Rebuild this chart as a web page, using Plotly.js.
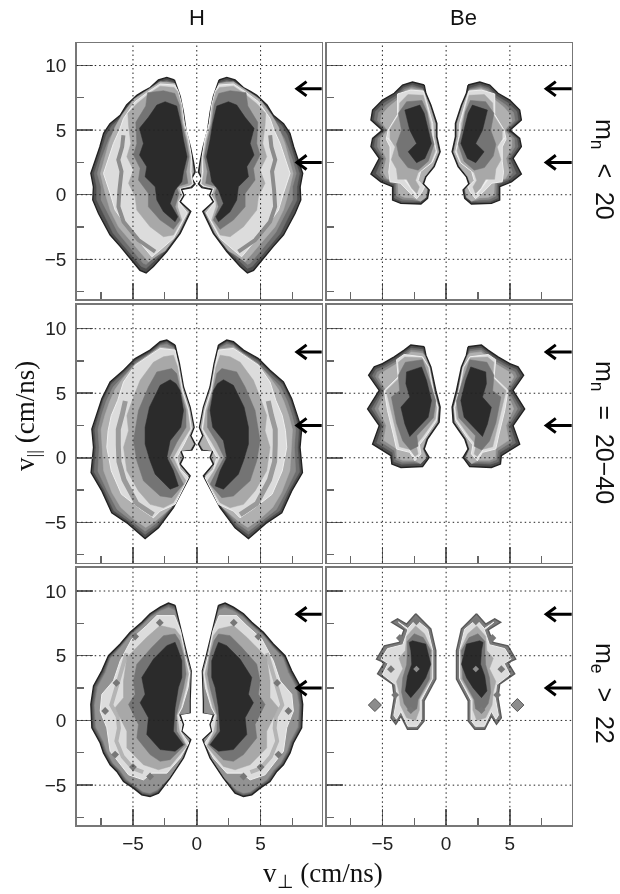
<!DOCTYPE html>
<html>
<head>
<meta charset="utf-8">
<script src="https://cdn.plot.ly/plotly-3.0.1.min.js"></script>
<style>html,body{margin:0;padding:0;background:#fff}#chart{width:620px;height:894px;filter:blur(0.35px)}</style>
</head>
<body>
<div id="chart"></div>
<script>
// Right-hand lobes, [v_perp, v_par] in cm/ns. Left lobes mirror them.
const levelFills = ['#4d4d4d','#6e6e6e','#8c8c8c','#b0b0b0','#dcdcdc','#a8a8a8','#747474','#2b2b2b'];
const gridX = [-5,0,5];
const gridY = [-5,0,5,10];
const arrowV = [8.2,2.5];
const columnNames = ['H','Be'];

const h1Edge=[[1.75,8.88],[2.35,9.08],[3.0,8.88],[3.65,8.3],[4.2,8.0],[4.7,7.7],[5.5,6.95],[6.0,6.15],[6.8,5.5],[7.3,4.75],[7.6,3.7],[7.9,2.8],[8.3,1.65],[8.1,0.6],[8.15,-0.4],[7.7,-1.45],[7.3,-2.2],[6.8,-3.1],[6.0,-4.0],[5.1,-5.05],[4.45,-5.85],[3.97,-6.05],[3.4,-5.55],[2.35,-4.4],[1.3,-3.0],[0.47,-1.3],[1.3,-0.55],[1.0,-0.05],[1.2,0.4],[0.4,0.55],[0.13,0.83],[0.4,1.26],[0.13,1.75],[0.26,2.55],[0.5,3.7],[0.85,5],[1.05,6.4],[1.3,7.6]];
const h1Inner=[[2.5,-4.35],[1.45,-3.0],[0.62,-1.3],[1.42,-0.55],[1.12,-0.05],[1.32,0.5],[0.5,0.65],[0.27,0.85],[0.5,1.26],[0.27,1.75],[0.36,2.55],[0.58,3.7],[0.93,5],[1.12,6.4],[1.38,7.6]];
const h1B=[[1.85,8.7],[2.35,8.85],[2.95,8.7],[3.6,8.1],[4.6,7.5],[5.4,6.8],[5.9,6.0],[6.65,5.35],[7.1,4.6],[7.4,3.6],[7.7,2.7],[8.05,1.65],[7.85,0.6],[7.85,-0.4],[7.4,-1.35],[7.0,-2.1],[6.55,-3.0],[5.8,-3.85],[4.9,-4.9],[4.35,-5.55],[3.97,-5.7],[3.5,-5.25]];
const h1C=[[1.85,8.55],[2.35,8.75],[2.9,8.6],[3.6,7.95],[4.6,7.3],[5.3,6.6],[5.8,5.8],[6.3,5.1],[6.85,4.4],[7.2,3.5],[7.5,2.7],[7.8,1.65],[7.5,0.6],[7.5,-0.4],[7.05,-1.3],[6.65,-2.0],[6.2,-2.9],[5.55,-3.7],[4.65,-4.75],[4.2,-5.3],[3.97,-5.4],[3.55,-5.0]];
const h1D=[[1.72,8.62],[2.87,8.75],[3.79,8.15],[4.96,7.38],[5.87,6.17],[6.4,5.26],[6.9,3.97],[7.25,2.81],[7.55,1.65],[7.18,0.1],[6.79,-1.19],[6.14,-2.48],[5.35,-3.38],[4.18,-4.8],[3.79,-5.19],[2.87,-4.54]];
const h1E=[[1.72,8.49],[2.87,8.57],[3.79,7.97],[4.83,7.2],[5.74,5.91],[6.06,5.0],[6.53,3.97],[6.92,2.81],[7.31,1.65],[6.79,0.1],[6.4,-1.19],[5.48,-2.48],[4.7,-3.38],[3.52,-4.8],[2.87,-4.28],[1.83,-3.38],[0.75,-1.4],[1.42,-0.55],[1.12,-0.05],[1.32,0.5],[0.5,0.68],[0.3,0.85],[0.45,1.78],[0.42,2.94],[0.63,4.23],[0.97,5.52],[1.17,6.94],[1.45,8.0]];
const h1F=[[1.78,8.3],[2.87,8.4],[3.7,7.85],[4.7,7.05],[5.4,6.3],[5.35,5.39],[5.17,3.97],[5.48,2.94],[4.96,1.91],[5.35,0.88],[4.83,-0.15],[4.7,-1.19],[3.66,-2.48],[2.61,-3.25],[1.83,-3.12],[1.17,-1.96],[1.51,-0.93],[1.5,-0.55],[1.2,-0.05],[1.4,0.5],[0.6,0.72],[0.4,0.85],[0.55,1.78],[0.5,2.94],[0.73,4.23],[1.07,5.52],[1.22,6.94],[1.5,7.97]];
const h1G=[[1.72,7.84],[2.61,8.05],[3.86,7.9],[4.0,6.87],[4.78,5.6],[4.7,3.97],[4.96,3.07],[4.44,2.04],[4.57,1.14],[3.79,0.1],[3.79,-0.93],[2.87,-1.96],[1.83,-2.68],[1.3,-1.96],[1.7,-0.93],[1.4,0.1],[1.6,0.6],[0.7,0.88],[0.84,1.78],[0.6,2.94],[0.84,4.23],[1.17,5.52],[1.36,6.94]];
const h1Core=[[1.57,6.86],[2.48,7.2],[3.13,6.94],[3.79,5.99],[4.49,5.14],[4.18,3.97],[4.49,3.07],[3.92,2.17],[4.05,1.39],[3.26,0.62],[3.13,-0.41],[2.61,-1.32],[1.7,-2.09],[1.49,-1.7],[2.09,-0.67],[1.7,0.36],[1.17,1.0],[1.04,1.78],[0.76,2.94],[1.04,4.23],[1.25,5.52]];
const h1Stripe=[[3.26,-4.41],[4.57,-3.51],[5.74,-2.09],[6.14,-0.93],[6.06,0.36],[6.0,1.0],[5.9,1.8],[6.15,2.7],[5.85,3.7],[5.75,4.6]];

const b1Edge=[[1.72,8.49],[2.64,8.72],[3.42,8.49],[4.07,7.85],[4.99,7.33],[5.77,6.55],[5.9,5.78],[5.0,5.0],[5.77,4.36],[5.9,3.72],[5.25,2.81],[5.9,1.6],[5.12,1.0],[4.2,0.62],[4.2,-0.41],[3.55,-0.67],[1.98,-0.72],[1.46,-0.28],[1.33,0.36],[1.78,0.83],[1.59,1.39],[0.94,2.17],[0.47,3.33],[0.73,4.49],[0.73,5.52],[1.2,6.94],[1.59,7.85]];
const b1Inner=[[2.0,-0.5],[1.6,-0.2],[1.5,0.4],[1.9,0.85],[1.7,1.4],[1.05,2.2],[0.6,3.3],[0.85,4.5],[0.85,5.5],[1.3,6.9],[1.7,7.8]];
const b1B=[[1.85,8.25],[2.65,8.5],[3.35,8.28],[3.95,7.65],[4.85,7.12],[5.55,6.45],[5.65,5.8],[4.8,5.0],[5.55,4.35],[5.65,3.72],[5.0,2.8],[5.5,1.65],[5.0,1.2],[4.05,0.8],[4.05,-0.25],[3.5,-0.5],[2.6,-0.55]];
const b1C=[[1.85,8.15],[2.7,8.35],[3.3,8.15],[3.85,7.5],[4.7,6.95],[5.3,6.35],[5.4,5.75],[4.7,5.0],[5.35,4.35],[5.4,3.72],[4.85,2.8],[5.2,1.7],[4.85,1.25],[3.95,0.95],[3.9,-0.1],[3.4,-0.35],[2.6,-0.4]];
const b1D=[[1.8,8.08],[2.75,8.22],[3.2,8.05],[3.75,7.4],[4.5,6.8],[5.05,6.2],[5.15,5.7],[4.6,5.0],[5.15,4.35],[5.15,3.72],[4.7,2.8],[4.95,1.75],[4.65,1.25],[3.8,1.05],[3.75,0.0],[3.3,-0.2],[2.6,-0.25]];
const b1E=[[1.78,8.02],[2.77,8.1],[3.81,7.8],[3.81,6.2],[4.55,5.0],[4.7,4.3],[4.4,3.7],[4.4,2.6],[4.5,1.75],[4.4,1.0],[3.6,0.9],[2.9,0.2],[2.3,-0.3],[1.9,0.2],[1.7,0.6],[2.2,1.1],[2.0,1.8],[1.1,2.5],[0.75,3.3],[1.0,4.5],[1.05,5.5],[1.4,6.8]];
const b1F=[[1.8,7.7],[3.0,7.75],[3.65,7.1],[3.7,6.2],[4.4,5.1],[4.4,4.3],[4.0,3.7],[4.3,2.7],[3.9,2.0],[3.8,1.2],[3.1,1.2],[2.7,0.5],[2.3,0.1],[2.1,0.6],[2.4,1.1],[2.2,1.7],[1.2,2.5],[0.85,3.4],[1.15,4.5],[1.2,5.5],[1.55,6.8]];
const b1G=[[1.9,7.3],[3.1,7.2],[3.75,6.3],[3.5,5.0],[3.9,3.9],[3.7,3.0],[3.0,2.1],[2.2,1.9],[1.4,2.6],[0.95,3.9],[1.3,5.3],[1.5,6.4]];
const b1Core=[[2.06,6.94],[3.24,6.55],[2.85,5.0],[2.32,3.97],[2.98,3.33],[2.32,2.48],[1.67,2.81],[1.15,3.97],[1.46,5.26],[1.72,6.3]];
const b1Stripe=[[2.3,-0.1],[2.9,0.7],[3.55,1.6],[4.07,2.6],[3.81,3.7],[4.6,4.4]];

const h2Edge=[[1.7,8.73],[2.35,9.12],[2.87,8.99],[3.66,8.34],[4.83,7.69],[5.74,6.78],[6.79,5.87],[7.44,4.57],[7.83,3.4],[8.22,2.23],[8.09,0.81],[8.28,-1.14],[7.44,-2.57],[6.66,-4.26],[5.48,-5.04],[4.05,-6.26],[3.0,-5.43],[1.83,-3.87],[0.52,-1.4],[1.3,-0.49],[1.04,0.03],[1.25,0.55],[0.39,0.6],[0.13,1.06],[0.47,1.71],[0.21,2.36],[0.52,3.92],[1.04,5.48],[1.36,7.3]];
const h2Inner=[[2.0,-3.85],[0.67,-1.4],[1.42,-0.49],[1.16,0.03],[1.37,0.55],[0.5,0.65],[0.25,1.06],[0.57,1.71],[0.3,2.36],[0.6,3.92],[1.12,5.48],[1.44,7.3]];
const h2B=[[1.8,8.6],[2.35,8.95],[2.87,8.8],[3.65,8.15],[4.8,7.5],[5.7,6.6],[6.7,5.7],[7.3,4.5],[7.65,3.4],[8.0,2.2],[7.9,0.8],[8.05,-1.1],[7.25,-2.5],[6.5,-4.1],[5.35,-4.9],[4.05,-5.95],[3.1,-5.25]];
const h2C=[[1.8,8.5],[2.35,8.8],[2.87,8.7],[3.6,8.05],[4.75,7.35],[5.65,6.4],[6.55,5.5],[7.1,4.4],[7.45,3.35],[7.75,2.2],[7.65,0.8],[7.75,-1.05],[7.0,-2.6],[6.25,-4.0],[5.2,-4.8],[4.05,-5.7],[3.2,-5.1]];
const h2D=[[1.75,8.42],[2.87,8.58],[3.66,8.05],[4.83,7.25],[5.75,6.2],[6.4,5.3],[6.85,4.3],[7.2,3.3],[7.5,2.2],[7.4,0.8],[7.3,-1.0],[6.65,-2.7],[5.95,-3.85],[4.95,-4.75],[4.0,-5.4],[3.3,-4.95]];
const h2E=[[1.7,8.34],[2.87,8.47],[3.66,7.95],[4.83,7.17],[5.74,5.87],[6.2,4.44],[6.7,3.27],[6.95,2.1],[7.05,0.81],[6.7,-1.01],[5.9,-2.83],[4.44,-3.95],[3.39,-4.65],[2.87,-4.13],[1.7,-3.61],[0.65,-1.53],[1.31,-0.88],[1.57,0.03],[0.99,1.06],[0.42,2.23],[0.62,3.66],[1.12,5.22],[1.45,7.04]];
const h2F=[[1.83,7.95],[2.61,7.82],[3.4,7.4],[4.44,6.0],[4.96,4.7],[5.48,3.27],[5.35,2.1],[5.74,0.81],[5.48,-1.01],[4.57,-2.57],[3.66,-3.61],[2.61,-3.87],[1.83,-3.48],[0.84,-1.79],[1.36,-1.01],[1.83,0.03],[1.17,1.19],[0.52,2.23],[0.72,3.66],[1.2,5.22],[1.5,7.04]];
const h2G=[[1.96,6.91],[3.13,6.65],[3.79,5.48],[4.57,3.66],[4.96,1.32],[4.7,-0.23],[4.18,-1.79],[2.87,-2.96],[1.96,-3.09],[1.04,-2.05],[1.57,-1.01],[2.14,0.03],[1.57,1.19],[0.84,2.36],[0.85,3.66],[1.28,5.22],[1.57,6.52]];
const h2Core=[[2.09,6.05],[2.87,5.61],[3.71,3.92],[4.05,2.36],[4.05,1.06],[3.66,-0.23],[3.26,-1.27],[2.09,-2.44],[1.44,-2.18],[1.83,-1.01],[2.35,0.03],[2.09,1.32],[1.25,2.36],[1.04,3.66],[1.31,5.22],[1.62,5.74]];
const h2Stripe=[[3.4,-4.4],[4.7,-3.55],[5.7,-1.7],[6.1,-0.3],[6.15,1.0],[6.15,2.2],[5.85,3.3],[5.6,4.4]];

const b2Edge=[[1.72,8.6],[2.77,8.73],[3.29,8.34],[4.07,7.82],[4.99,7.3],[5.64,7.04],[6.08,6.39],[5.25,5.22],[6.16,3.79],[5.25,2.49],[5.77,1.06],[4.33,0.16],[4.26,-0.49],[3.55,-0.75],[1.85,-0.68],[1.33,0.03],[1.72,0.68],[1.46,1.45],[0.55,2.75],[0.47,3.92],[0.81,5.22],[1.2,7.04],[1.59,7.95]];
const b2Inner=[[2.0,-0.45],[1.55,0.03],[1.85,0.68],[1.6,1.45],[0.7,2.75],[0.6,3.92],[0.95,5.22],[1.3,7.0],[1.7,7.95]];
const b2B=[[1.85,8.4],[2.75,8.5],[3.25,8.15],[4.0,7.6],[4.9,7.1],[5.5,6.85],[5.8,6.35],[5.0,5.22],[5.85,3.8],[5.0,2.5],[5.45,1.15],[4.2,0.4],[4.1,-0.3],[3.5,-0.5],[2.5,-0.47]];
const b2C=[[1.85,8.25],[2.75,8.35],[3.2,8.0],[3.9,7.45],[4.8,6.95],[5.4,6.65],[5.55,6.3],[4.85,5.22],[5.6,3.8],[4.85,2.5],[5.15,1.25],[4.05,0.55],[3.95,-0.15],[3.45,-0.35],[2.5,-0.33]];
const b2D=[[1.85,8.1],[2.75,8.2],[3.15,7.85],[3.85,7.3],[4.7,6.8],[5.2,6.5],[5.3,6.25],[4.7,5.22],[5.3,3.8],[4.7,2.5],[4.9,1.35],[3.9,0.7],[3.85,-0.02],[3.4,-0.2],[2.5,-0.2]];
const b2E=[[1.85,7.82],[3.3,8.0],[3.89,7.6],[3.76,6.26],[4.85,5.22],[4.6,3.66],[4.15,1.84],[3.89,0.68],[2.85,0.42],[2.45,-0.23],[1.98,0.3],[2.1,1.0],[1.7,1.5],[0.75,2.9],[0.65,3.9],[1.0,5.2],[1.35,7.0]];
const b2F=[[1.9,7.75],[3.25,7.8],[3.75,7.4],[3.65,6.2],[4.7,5.2],[4.35,3.7],[3.9,1.9],[3.65,0.85],[2.85,0.65],[2.45,0.1],[2.2,0.3],[2.35,1.0],[1.85,1.6],[0.85,3.0],[0.75,3.9],[1.1,5.2],[1.42,7.0]];
const b2G=[[1.85,7.6],[3.2,7.4],[3.75,6.4],[3.65,5.2],[4.3,4.7],[4.1,3.6],[3.9,2.7],[3.4,1.3],[2.8,0.6],[2.2,0.9],[2.3,1.7],[1.0,3.1],[0.8,4.4],[1.3,6.0]];
const b2Core=[[1.93,7.04],[3.11,6.65],[3.16,5.74],[2.85,4.7],[3.55,3.92],[3.24,2.62],[2.85,1.64],[1.41,3.14],[1.15,4.44],[1.54,6.0]];
const b2Stripe=[[2.45,0.0],[3.0,0.8],[3.6,1.4],[3.4,2.2],[3.9,3.0],[3.6,3.6],[4.1,4.6]];

const h3Edge=[[1.7,8.89],[2.22,9.07],[2.87,8.76],[3.66,8.24],[4.31,7.59],[5.22,6.81],[6.0,5.91],[6.92,5.0],[7.44,3.83],[8.09,2.67],[8.3,1.24],[8.22,-0.57],[7.57,-1.74],[7.31,-2.51],[6.79,-3.42],[6.27,-3.94],[5.74,-4.72],[4.96,-5.23],[4.31,-5.75],[3.66,-5.88],[3.0,-5.62],[2.09,-4.46],[1.04,-2.9],[0.47,-1.48],[1.17,-0.83],[1.04,-0.31],[1.31,0.47],[0.52,0.6],[0.52,1.5],[0.44,3.83],[0.78,5.13],[1.17,6.81]];
const h3Inner=[[2.2,-4.46],[1.15,-2.9],[0.58,-1.48],[1.28,-0.83],[1.15,-0.31],[1.42,0.47],[0.6,0.6],[0.6,1.5],[0.5,3.83],[0.85,5.13],[1.24,6.81]];
const h3B=[[1.75,8.75],[2.2,8.93],[2.85,8.62],[3.65,8.1],[4.3,7.45],[5.2,6.68],[5.97,5.78],[6.85,4.88],[7.3,3.75],[7.95,2.62],[8.15,1.22],[8.08,-0.55],[7.45,-1.7],[7.2,-2.45],[6.68,-3.35],[6.15,-3.9],[5.62,-4.65],[4.9,-5.12],[4.28,-5.62],[3.66,-5.75],[3.05,-5.48]];
const h3C=[[1.75,8.62],[2.2,8.8],[2.85,8.55],[3.65,8.02],[4.3,7.38],[5.2,6.62],[5.96,5.72],[6.8,4.85],[7.22,3.72],[7.85,2.6],[8.05,1.2],[7.98,-0.52],[7.38,-1.67],[7.12,-2.42],[6.6,-3.32],[6.07,-3.87],[5.55,-4.6],[4.87,-5.05],[4.25,-5.55],[3.66,-5.67],[3.08,-5.42]];
const h3D=[[1.73,8.5],[2.2,8.7],[2.85,8.45],[3.65,7.95],[4.3,7.3],[5.2,6.55],[5.95,5.65],[6.75,4.8],[7.15,3.7],[7.75,2.6],[8.0,1.2],[7.9,-0.5],[7.3,-1.65],[7.05,-2.4],[6.55,-3.3],[6.0,-3.85],[5.5,-4.55],[4.85,-5.0],[4.2,-5.5],[3.66,-5.6],[3.1,-5.35]];
const h3E=[[1.75,8.1],[3.13,8.1],[3.92,7.33],[5.09,6.3],[6.0,4.61],[6.53,3.06],[7.44,2.02],[7.57,0.73],[7.05,-0.57],[6.79,-2.38],[5.35,-4.2],[4.18,-4.59],[3.52,-4.07],[2.35,-4.07],[1.3,-2.9],[0.63,-1.74],[1.25,-0.88],[1.15,-0.3],[1.45,0.45],[1.15,0.98],[0.68,2.54],[0.55,3.7],[0.9,5.0],[1.28,6.94]];
const h3F=[[1.7,7.07],[2.87,7.33],[3.92,6.42],[5.48,4.87],[5.74,3.06],[5.74,1.76],[6.4,0.98],[5.48,-0.83],[5.48,-2.12],[4.18,-3.42],[3.0,-3.81],[2.09,-3.55],[0.78,-1.99],[1.36,-0.83],[1.55,0.4],[1.25,0.98],[0.84,2.54],[0.65,3.58],[0.95,5.0],[1.3,6.55]];
const h3G=[[1.7,6.68],[2.61,6.55],[3.52,5.65],[4.7,4.35],[4.96,3.06],[4.83,2.02],[5.35,1.24],[4.57,-0.31],[4.7,-1.35],[3.66,-2.64],[2.87,-3.16],[2.09,-3.03],[0.91,-1.87],[1.57,-0.83],[1.6,0.4],[1.44,0.98],[1.04,2.54],[0.84,3.58],[0.99,4.87],[1.36,6.17]];
const h3Core=[[1.7,6.04],[2.35,5.78],[3.39,4.74],[4.31,3.32],[4.05,2.02],[4.44,1.37],[3.79,0.21],[3.92,-1.09],[2.87,-2.25],[1.7,-2.38],[1.04,-1.87],[1.83,-0.83],[1.7,0.98],[1.44,2.54],[1.17,3.32],[1.17,4.61],[1.49,5.52]];
const h3Stripe=[[5.5,5.2],[6.0,3.6],[6.3,2.4],[6.7,1.2],[6.2,0.3],[6.1,-0.6],[6.3,-1.6],[5.8,-2.8],[5.0,-3.7],[4.2,-4.0]];
const h3Dots=[[4.83,6.48],[7.18,0.73],[6.4,-2.64],[3.66,-4.33],[2.9,7.55],[6.3,2.9],[5.0,-3.6]];

const b3Edge=[[2.38,8.24],[3.1,7.45],[3.81,7.85],[4.28,7.58],[3.3,7.0],[3.68,6.03],[4.85,5.77],[5.46,4.74],[4.85,4.47],[5.38,3.6],[4.2,2.8],[4.07,1.76],[4.33,0.2],[3.95,-0.3],[3.55,0.33],[3.03,-0.68],[2.25,-0.68],[1.73,-0.05],[1.73,1.5],[0.81,3.2],[0.81,5.4],[1.2,7.07]];
const b3E=[[2.38,7.8],[3.0,7.1],[3.75,7.6],[3.0,7.0],[3.4,5.85],[4.6,5.55],[5.1,4.74],[4.55,4.4],[5.0,3.55],[3.95,2.75],[3.85,1.75],[4.1,0.4],[3.9,0.1],[3.55,0.7],[3.0,-0.45],[2.3,-0.45],[1.95,0.0],[1.95,1.55],[1.05,3.25],[1.05,5.4],[1.45,7.05]];
const b3F=[[2.4,7.3],[3.1,6.5],[3.2,5.4],[3.7,4.8],[3.4,4.0],[3.9,3.0],[3.7,2.2],[3.6,1.2],[3.1,0.2],[2.4,0.0],[2.1,0.8],[2.1,1.6],[1.15,3.2],[1.1,5.4],[1.7,6.7]];
const b3G=[[2.5,6.7],[3.05,6.1],[3.05,5.2],[3.1,4.3],[3.4,3.3],[3.5,2.2],[3.3,1.3],[2.8,0.6],[2.3,0.9],[2.2,1.6],[1.3,3.2],[1.2,5.4],[1.8,6.4]];
const b3Core=[[2.64,6.16],[2.9,6.03],[2.77,5.39],[2.7,4.35],[3.03,3.44],[3.2,2.28],[2.77,1.76],[2.1,2.53],[1.6,3.3],[1.2,4.35],[1.6,5.9]];
const b3Dots=[[2.33,7.66],[3.63,6.37],[4.0,1.97],[2.77,0.8],[4.33,3.96]];
const b3CoreDots=[[2.33,3.98]];
const b3Lone=[[5.59,1.19]];

const panels=[
 {edge:h1Edge,inner:h1Inner,bands:[h1B,h1C,h1D],E:h1E,F:h1F,G:h1G,core:h1Core,stripe:h1Stripe,stripeColor:'#8c8c8c',stripeWidth:4},
 {edge:b1Edge,inner:b1Inner,bands:[b1B,b1C,b1D],E:b1E,F:b1F,G:b1G,core:b1Core,stripe:b1Stripe,stripeColor:'#eeeeee',stripeWidth:1.5},
 {edge:h2Edge,inner:h2Inner,bands:[h2B,h2C,h2D],E:h2E,F:h2F,G:h2G,core:h2Core,stripe:h2Stripe,stripeColor:'#9a9a9a',stripeWidth:5},
 {edge:b2Edge,inner:b2Inner,bands:[b2B,b2C,b2D],E:b2E,F:b2F,G:b2G,core:b2Core,stripe:b2Stripe,stripeColor:'#eeeeee',stripeWidth:1.5},
 {edge:h3Edge,inner:h3Inner,bands:[h3B,h3C,h3D],bandFills:['#666666','#7c7c7c','#929292'],E:h3E,F:h3F,G:h3G,core:h3Core,stripe:h3Stripe,stripeColor:'#b4b4b4',stripeWidth:4,dots:h3Dots},
 {edge:b3Edge,inner:null,bands:[],E:b3E,F:b3F,G:b3G,core:b3Core,dots:b3Dots,coreDots:b3CoreDots,lone:b3Lone,edgeFill:'#7a7a7a',edgeLine:'#5a5a5a'}
];

// Plot frames measured in window pixels
const W=620,H=894;
const cols=[{l:76.7,r:321.7,range:[-9.41,9.79]},{l:326.7,r:571.7,range:[-9.37,9.85]}];
const rows=[{t:43.3,b:299,range:[-8.07,11.72]},{t:304.7,b:562.7,range:[-8.13,11.86]},{t:567.7,b:825.3,range:[-8.1,11.8]}];

const traces=[];
function mirrored(poly,close){
  const p=close?poly.concat([poly[0]]):poly;
  return {x:p.map(d=>d[0]).concat([null],p.map(d=>-d[0])),y:p.map(d=>d[1]).concat([null],p.map(d=>d[1]))};
}
function addPoly(poly,fill,ax,lineColor,lineWidth){
  const m=mirrored(poly,true);
  traces.push({type:'scatter',mode:'lines',x:m.x,y:m.y,xaxis:ax.x,yaxis:ax.y,fill:'toself',fillcolor:fill,
    line:{color:lineColor||fill,width:lineWidth===undefined?0.5:lineWidth},hoverinfo:'skip',showlegend:false});
}
function addDots(list,ax,size,color,outline){
  const m=mirrored(list,false);
  traces.push({type:'scatter',mode:'markers',x:m.x,y:m.y,xaxis:ax.x,yaxis:ax.y,
    marker:{symbol:'diamond',size,color,line:{color:outline||color,width:outline?1:0}},hoverinfo:'skip',showlegend:false});
}
const layout={width:W,height:H,margin:{l:0,r:0,t:0,b:0},paper_bgcolor:'#fff',plot_bgcolor:'#fff',showlegend:false,shapes:[],annotations:[]};
const tickFont={family:'"Liberation Sans",Arial,sans-serif',size:19,color:'#222'};

panels.forEach((p,i)=>{
  const n=i+1,c=i%2,r=Math.floor(i/2),sfx=n===1?'':String(n);
  const ax={x:'x'+sfx,y:'y'+sfx};
  layout['xaxis'+sfx]={domain:[cols[c].l/W,cols[c].r/W],range:cols[c].range,anchor:ax.y,dtick:5,tick0:0,ticks:'inside',ticklen:16,tickcolor:'#666',tickwidth:1.5,
    minor:{ticks:'inside',ticklen:7,tick0:2.5,dtick:5,tickcolor:'#666',tickwidth:1.2,showgrid:false},showgrid:false,zeroline:false,showline:true,mirror:true,linecolor:'#777',linewidth:1.5,
    showticklabels:r===2,tickfont:tickFont,ticklabelstandoff:0};
  layout['yaxis'+sfx]={domain:[1-rows[r].b/H,1-rows[r].t/H],range:rows[r].range,anchor:ax.x,dtick:5,tick0:0,ticks:'inside',ticklen:16,tickcolor:'#666',tickwidth:1.5,
    minor:{ticks:'inside',ticklen:7,tick0:2.5,dtick:5,tickcolor:'#666',tickwidth:1.2,showgrid:false},showgrid:false,zeroline:false,showline:true,mirror:true,linecolor:'#777',linewidth:1.5,
    showticklabels:c===0,tickfont:tickFont,ticklabelstandoff:5};

  addPoly(p.edge,p.edgeFill||levelFills[0],ax,p.edgeLine||'#222',1.4);
  p.bands.forEach((arc,k)=>addPoly(arc.concat(p.inner),(p.bandFills||levelFills.slice(1,4))[k],ax));
  addPoly(p.E,levelFills[4],ax,'#eeeeee',1);
  if(p.stripe){const m=mirrored(p.stripe,false);
    traces.push({type:'scatter',mode:'lines',x:m.x,y:m.y,xaxis:ax.x,yaxis:ax.y,line:{color:p.stripeColor,width:p.stripeWidth},hoverinfo:'skip',showlegend:false});}
  addPoly(p.F,levelFills[5],ax);
  addPoly(p.G,levelFills[6],ax);
  addPoly(p.core,levelFills[7],ax);
  if(p.dots) addDots(p.dots,ax,6,'#777777');
  if(p.coreDots) addDots(p.coreDots,ax,5,'#8c8c8c');
  if(p.lone) addDots(p.lone,ax,10,'#8c8c8c','#555555');

  // arrows
  arrowV.forEach(v=>{
    const tip=7.85,tail=9.95,hx=0.75,hy=0.55;
    traces.push({type:'scatter',mode:'lines',x:[tail,tip,null,tip+hx,tip,tip+hx],y:[v,v,null,v+hy,v,v-hy],xaxis:ax.x,yaxis:ax.y,cliponaxis:false,
      line:{color:'#000',width:3},hoverinfo:'skip',showlegend:false});
  });
  // dotted grid above the contours
  gridX.forEach(g=>layout.shapes.push({type:'line',layer:'above',xref:ax.x,yref:ax.y+' domain',x0:g,x1:g,y0:0,y1:1,line:{color:'#222',width:1,dash:'1.5px,3px'}}));
  gridY.forEach(g=>layout.shapes.push({type:'line',layer:'above',xref:ax.x+' domain',yref:ax.y,x0:0,x1:1,y0:g,y1:g,line:{color:'#222',width:1,dash:'1.5px,3px'}}));
});

function note(text,px,py,size,family,angle){
  layout.annotations.push({text,xref:'paper',yref:'paper',x:px/W,y:1-py/H,xanchor:'center',yanchor:'middle',showarrow:false,textangle:angle||0,
    font:{family,size,color:'#111'}});
}
const sans='"Liberation Sans",Arial,sans-serif',serif='"Liberation Serif","Times New Roman",serif';
note(columnNames[0],197,18,22,sans);
note(columnNames[1],463,18,22,sans);
note('m<sub>n</sub>\u00a0 &lt;\u00a0 20',603,169,25,sans,90);
note('m<sub>n</sub>\u00a0 =\u00a0 20−40',603,432,25,sans,90);
note('m<sub>e</sub>\u00a0 &gt;\u00a0 22',603,693,25,sans,90);
note('v<sub>||</sub> (cm/ns)',27,416,27,serif,-90);
note('v<sub>⊥</sub> (cm/ns)',323,875,27,serif);

Plotly.newPlot('chart',traces,layout,{displayModeBar:false,staticPlot:true});
</script>
</body>
</html>
